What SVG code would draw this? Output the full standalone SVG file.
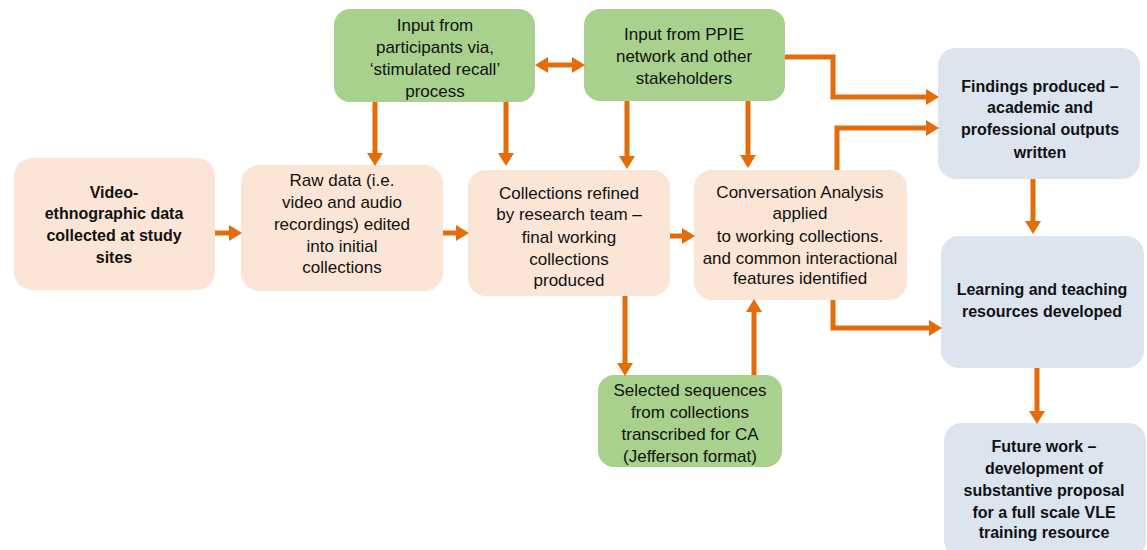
<svg xmlns="http://www.w3.org/2000/svg" width="1147" height="550" viewBox="0 0 1147 550">
<style>
.peach{fill:#FBE5D6}
.green{fill:#A9D18E}
.blue{fill:#DCE4F0}
text{font-family:"Liberation Sans",Arial,sans-serif;font-size:17px;fill:#111;text-anchor:middle}
.b{font-weight:bold;font-size:16px}
.c{fill:none;stroke:#E46C0A;stroke-width:5}
</style>
<defs>
<marker id="ah" markerUnits="userSpaceOnUse" markerWidth="14" markerHeight="16" refX="0" refY="8" orient="auto-start-reverse" viewBox="0 0 14 16">
<path d="M0,0 L13,8 L0,16 z" fill="#E46C0A"/>
</marker>
</defs>
<rect width="1147" height="550" fill="#fff"/>
<g id="n-video"><rect class="peach" x="14" y="158" width="201" height="132" rx="18"/>
<text class="b"><tspan x="114" y="198">Video-</tspan><tspan x="114" y="219">ethnographic data</tspan><tspan x="114" y="241">collected at study</tspan><tspan x="114" y="263">sites</tspan></text></g>
<g id="n-raw"><rect class="peach" x="241" y="165" width="202" height="126" rx="18"/>
<text><tspan x="342" y="186">Raw data (i.e.</tspan><tspan x="342" y="208">video and audio</tspan><tspan x="342" y="230">recordings) edited</tspan><tspan x="342" y="252">into initial</tspan><tspan x="342" y="273">collections</tspan></text></g>
<g id="n-refined"><rect class="peach" x="468" y="170" width="202" height="126" rx="18"/>
<text><tspan x="569" y="199">Collections refined</tspan><tspan x="569" y="220">by research team –</tspan><tspan x="569" y="243">final working</tspan><tspan x="569" y="265">collections</tspan><tspan x="569" y="286">produced</tspan></text></g>
<g id="n-ca"><rect class="peach" x="694" y="170" width="213" height="130" rx="18"/>
<text><tspan x="800" y="198">Conversation Analysis</tspan><tspan x="800" y="219">applied</tspan><tspan x="800" y="242">to working collections.</tspan><tspan x="800" y="264">and common interactional</tspan><tspan x="800" y="284">features identified</tspan></text></g>
<g id="n-participants"><rect class="green" x="334" y="9" width="201" height="93" rx="16"/>
<text><tspan x="435" y="31">Input from</tspan><tspan x="435" y="53">participants via,</tspan><tspan x="435" y="75">‘stimulated recall’</tspan><tspan x="435" y="97">process</tspan></text></g>
<g id="n-ppie"><rect class="green" x="584" y="9" width="201" height="92" rx="16"/>
<text><tspan x="684" y="40">Input from PPIE</tspan><tspan x="684" y="62">network and other</tspan><tspan x="684" y="84">stakeholders</tspan></text></g>
<g id="n-selected"><rect class="green" x="598" y="375" width="184" height="92" rx="16"/>
<text><tspan x="690" y="396">Selected sequences</tspan><tspan x="690" y="418">from collections</tspan><tspan x="690" y="440">transcribed for CA</tspan><tspan x="690" y="462">(Jefferson format)</tspan></text></g>
<g id="n-findings"><rect class="blue" x="938" y="48" width="202" height="131" rx="18"/>
<text class="b"><tspan x="1040" y="92">Findings produced –</tspan><tspan x="1040" y="113">academic and</tspan><tspan x="1040" y="135">professional outputs</tspan><tspan x="1040" y="158">written</tspan></text></g>
<g id="n-learning"><rect class="blue" x="941" y="236" width="203" height="132" rx="18"/>
<text class="b"><tspan x="1042" y="295">Learning and teaching</tspan><tspan x="1042" y="317">resources developed</tspan></text></g>
<g id="n-future"><rect class="blue" x="944" y="423" width="202" height="135" rx="18"/>
<text class="b"><tspan x="1044" y="452">Future work –</tspan><tspan x="1044" y="474">development of</tspan><tspan x="1044" y="496">substantive proposal</tspan><tspan x="1044" y="518">for a full scale VLE</tspan><tspan x="1044" y="538">training resource</tspan></text></g>
<g id="connectors">
<path class="c" d="M215,233 H229" marker-end="url(#ah)"/>
<path class="c" d="M443,233 H456" marker-end="url(#ah)"/>
<path class="c" d="M670,236 H682" marker-end="url(#ah)"/>
<path class="c" d="M375,102 V153" marker-end="url(#ah)"/>
<path class="c" d="M506,102 V153" marker-end="url(#ah)"/>
<path class="c" d="M627,101 V156" marker-end="url(#ah)"/>
<path class="c" d="M748,101 V155" marker-end="url(#ah)"/>
<path class="c" d="M548,65 H572" marker-start="url(#ah)" marker-end="url(#ah)"/>
<path class="c" d="M785,57 H833 V97 H926" marker-end="url(#ah)"/>
<path class="c" d="M837,170 V128 H926" marker-end="url(#ah)"/>
<path class="c" d="M625,296 V363" marker-end="url(#ah)"/>
<path class="c" d="M754,375 V312" marker-end="url(#ah)"/>
<path class="c" d="M833,300 V328 H929" marker-end="url(#ah)"/>
<path class="c" d="M1033,179 V221" marker-end="url(#ah)"/>
<path class="c" d="M1037,368 V411" marker-end="url(#ah)"/>
</g>
</svg>
